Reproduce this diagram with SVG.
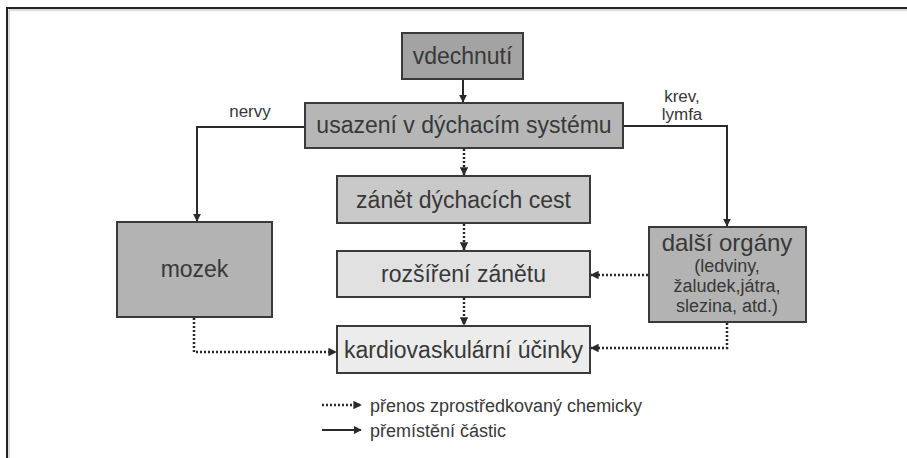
<svg xmlns="http://www.w3.org/2000/svg" width="907" height="458" viewBox="0 0 907 458">
<defs>
<style>
.box{stroke:#3a3a3a;stroke-width:2}
.t{font-family:"Liberation Sans",Arial,sans-serif;fill:#383838;text-anchor:middle}
.big{font-size:23px}
.sm{font-size:18px}
.lbl{font-size:17px;font-family:"Liberation Sans",Arial,sans-serif;fill:#383838;text-anchor:middle}
.leg{font-size:18px;font-family:"Liberation Sans",Arial,sans-serif;fill:#383838}
.solid{fill:none;stroke:#2a2a2a;stroke-width:2}
.dot{fill:none;stroke:#2a2a2a;stroke-width:2.5;stroke-dasharray:2 2}
</style>
<marker id="ah" viewBox="0 0 10 10" refX="9" refY="5" markerWidth="4" markerHeight="4" markerUnits="strokeWidth" orient="auto">
<path d="M0,0 L10,5 L0,10 z" fill="#2a2a2a"/>
</marker>
<marker id="ahd" viewBox="0 0 10 10" refX="9" refY="5" markerWidth="3.4" markerHeight="3.4" markerUnits="strokeWidth" orient="auto">
<path d="M0,0 L10,5 L0,10 z" fill="#2a2a2a"/>
</marker>
</defs>
<rect x="0" y="0" width="907" height="458" fill="#fff"/>
<g id="frame">
<path d="M7,458 V8 H907" fill="none" stroke="#222" stroke-width="2"/>
<path d="M9,458 V10 H907" fill="none" stroke="#bbb" stroke-width="1"/>
</g>
<g id="connectors">
<path class="solid" d="M463,79 V102" marker-end="url(#ah)"/>
<path class="solid" d="M305,127 H197 V221" marker-end="url(#ah)"/>
<path class="solid" d="M623,126 H727 V226" marker-end="url(#ah)"/>
<path class="dot" d="M464,149 V175" marker-end="url(#ahd)"/>
<path class="dot" d="M464,224 V250" marker-end="url(#ahd)"/>
<path class="dot" d="M464,298 V325" marker-end="url(#ahd)"/>
<path class="dot" d="M194,318 V352 H336" marker-end="url(#ahd)"/>
<path class="dot" d="M648,275 H591" marker-end="url(#ahd)"/>
<path class="dot" d="M727,323 V348 H591" marker-end="url(#ahd)"/>
<text class="lbl" x="250" y="117">nervy</text>
<text class="lbl" x="682" y="102">krev,</text>
<text class="lbl" x="682" y="120">lymfa</text>
</g>
<g id="vdechnuti">
<rect class="box" x="402" y="33" width="121" height="46" fill="#a3a3a3"/>
<text class="t big" x="462.5" y="64">vdechnutí</text>
</g>
<g id="usazeni">
<rect class="box" x="305" y="103" width="318" height="45" fill="#b6b6b6"/>
<text class="t big" x="464" y="133">usazení v dýchacím systému</text>
</g>
<g id="zanet">
<rect class="box" x="337" y="176" width="253" height="47" fill="#c9c9c9"/>
<text class="t big" x="463.5" y="207.5">zánět dýchacích cest</text>
</g>
<g id="rozsireni">
<rect class="box" x="337" y="251" width="253" height="46" fill="#e1e1e1"/>
<text class="t big" x="463.5" y="282">rozšíření zánětu</text>
</g>
<g id="kardio">
<rect class="box" x="337" y="326" width="253" height="47" fill="#ececec"/>
<text class="t big" x="463.5" y="357.5">kardiovaskulární účinky</text>
</g>
<g id="mozek">
<rect class="box" x="117" y="222" width="155" height="95" fill="#b3b3b3"/>
<text class="t big" x="194.5" y="277">mozek</text>
</g>
<g id="dalsi">
<rect class="box" x="649" y="227" width="157" height="95" fill="#b3b3b3"/>
<text class="t" font-size="24" x="727" y="251">další orgány</text>
<text class="t sm" x="727" y="272">(ledviny,</text>
<text class="t sm" x="727" y="292">žaludek,játra,</text>
<text class="t sm" x="727" y="312">slezina, atd.)</text>
</g>
<g id="legend">
<path class="dot" d="M322,405 H361" stroke-width="2" marker-end="url(#ahd)"/>
<text class="leg" x="370" y="412">přenos zprostředkovaný chemicky</text>
<path class="solid" d="M322,430 H361" marker-end="url(#ah)"/>
<text class="leg" x="370" y="437">přemístění částic</text>
</g>
</svg>
